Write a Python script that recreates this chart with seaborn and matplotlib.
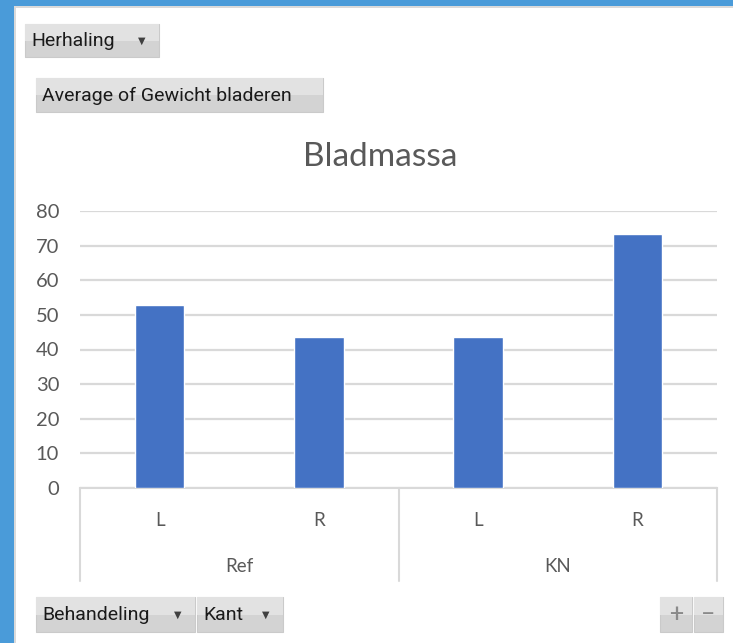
import matplotlib
matplotlib.use("Agg")
import matplotlib.pyplot as plt
import matplotlib.transforms as mtransforms
from matplotlib.patches import Rectangle
import seaborn as sns
import pandas as pd

# ---- data ----
behandeling = ["Ref", "Ref", "KN", "KN"]
kant = ["L", "R", "L", "R"]
gewicht = [52.9, 43.6, 43.7, 73.3]
groups = ["Ref", "KN"]
y_ticks = [0, 10, 20, 30, 40, 50, 60, 70, 80]

title = "Bladmassa"
field_top = "Herhaling"
value_btn = "Average of Gewicht bladeren"
axis_btns = ["Behandeling", "Kant"]

df = pd.DataFrame({"Behandeling": behandeling, "Kant": kant, "Gewicht": gewicht})
df["cat"] = [f"{b}|{k}" for b, k in zip(behandeling, kant)]

W, H = 733, 643
sns.set_theme(style="white")
plt.rcParams['font.family'] = ['Lato', 'DejaVu Sans']
fig = plt.figure(figsize=(W / 100, H / 100), dpi=100)
fig.patch.set_facecolor("white")

def fx(px):
    return px / W

def fy(py):
    return 1 - py / H

# ---- frame (blue window border) ----
fig.patches.append(Rectangle((0, fy(6)), 1, 6 / H, transform=fig.transFigure,
                             facecolor="#4A9BD9", edgecolor="none", zorder=0))
fig.patches.append(Rectangle((0, 0), fx(14), 1, transform=fig.transFigure,
                             facecolor="#4A9BD9", edgecolor="none", zorder=0))
fig.patches.append(Rectangle((fx(14), fy(8)), 1, 2 / H, transform=fig.transFigure,
                             facecolor="#DADADA", edgecolor="none", zorder=0))
fig.patches.append(Rectangle((fx(14), 0), 2 / W, fy(6), transform=fig.transFigure,
                             facecolor="#DADADA", edgecolor="none", zorder=0))

# ---- axes ----
ax_l, ax_r, ax_t, ax_b = 80, 717, 211, 488
ax = fig.add_axes([fx(ax_l), fy(ax_b), (ax_r - ax_l) / W, (ax_b - ax_t) / H])
sns.barplot(data=df, x="cat", y="Gewicht", color="#4472C4", width=0.31,
            saturation=1, ax=ax, errorbar=None, zorder=3)
ax.set_ylim(0, 80)
ax.set_xlim(-0.5, 3.5)
ax.set_yticks(y_ticks)
ax.set_yticklabels([str(v) for v in y_ticks], color="#595959", fontsize=14.5)
ax.tick_params(axis="y", length=0, pad=15)
ax.set_xticks([])
ax.set_xlabel("")
ax.set_ylabel("")
for s in ["top", "right", "left"]:
    ax.spines[s].set_visible(False)
ax.spines["bottom"].set_color("#D9D9D9")
ax.spines["bottom"].set_linewidth(1.5)
ax.yaxis.grid(True, color="#D9D9D9", linewidth=1.6, zorder=0)
ax.set_axisbelow(True)

# ---- multi-level category axis ----
bt = mtransforms.blended_transform_factory(ax.transData, fig.transFigure)
for xv in [-0.5, 1.5, 3.5]:
    ax.plot([xv, xv], [fy(488), fy(581)], transform=bt, color="#D9D9D9",
            lw=1.5, clip_on=False)
for i, k in enumerate(kant):
    ax.text(i, fy(520), k, transform=bt, ha="center", va="center",
            color="#595959", fontsize=13.5)
for j, g in enumerate(groups):
    ax.text(2 * j + 0.5, fy(567), g, transform=bt, ha="center", va="center",
            color="#595959", fontsize=13.5)

# ---- title ----
fig.text(fx(380), fy(157), title, ha="center", va="center", color="#595959",
         fontsize=24)

# ---- pivot field buttons ----
btn_font = ['Liberation Sans Narrow', 'Roboto', 'DejaVu Sans']

def button(x0, y0, x1, y1, label, arrow=False, ha="left", tx=None,
           size=14, color="#1A1A1A"):
    fig.patches.append(Rectangle((fx(x0), fy(y1)), (x1 - x0) / W, (y1 - y0) / H,
                                 transform=fig.transFigure, facecolor="#D3D3D3",
                                 edgecolor="#CACACA", linewidth=0.8, zorder=1))
    fig.patches.append(Rectangle((fx(x0), fy((y0 + y1) / 2)), (x1 - x0) / W,
                                 (y1 - y0) / 2 / H, transform=fig.transFigure,
                                 facecolor="#E2E2E2", edgecolor="none", zorder=1))
    if tx is None:
        tx = x0 + 6
    fig.text(fx(tx), fy((y0 + y1) / 2 + 1), label, ha=ha, va="center",
             fontsize=size, color=color, family=btn_font, zorder=2)
    if arrow:
        fig.text(fx(x1 - 17), fy((y0 + y1) / 2), "\u25BC", ha="center",
                 va="center", fontsize=7, color="#404040",
                 family=['DejaVu Sans'], zorder=2)

button(25, 24, 159, 57, field_top, arrow=True)
button(36, 78, 323, 112, value_btn)
button(36, 597, 195, 632, axis_btns[0], arrow=True)
button(197, 597, 283, 632, axis_btns[1], arrow=True)
button(660, 597, 692, 632, "+", ha="center", tx=676, size=18, color="#8A8A8A")
button(694, 597, 723, 632, "\u2212", ha="center", tx=708, size=18, color="#8A8A8A")

fig.savefig("out.png", dpi=100, facecolor="white")
